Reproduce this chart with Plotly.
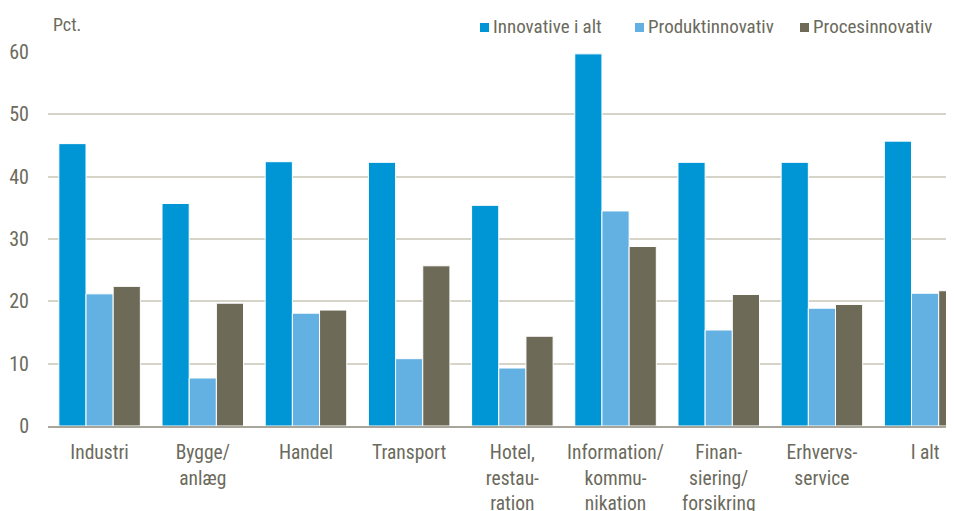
import plotly.graph_objects as go

# Data
categories = [
    "Industri", "Bygge/<br>anlæg", "Handel", "Transport",
    "Hotel,<br>restau-<br>ration", "Information/<br>kommu-<br>nikation",
    "Finan-<br>siering/<br>forsikring", "Erhvervs-<br>service", "I alt",
]
innovative_i_alt = [45.3, 35.7, 42.4, 42.3, 35.4, 59.7, 42.3, 42.3, 45.7]
produktinnovativ = [21.2, 7.7, 18.1, 10.8, 9.3, 34.5, 15.4, 18.9, 21.3]
procesinnovativ = [22.4, 19.7, 18.6, 25.7, 14.4, 28.8, 21.1, 19.5, 21.7]

y_ticks = [0, 10, 20, 30, 40, 50, 60]

TEXT_COLOR = "#6b6a5c"
FONT = "Liberation Sans Narrow, Arial Narrow, Roboto Condensed, sans-serif"

series = [
    ("Innovative i alt", innovative_i_alt, "#0096d6"),
    ("Produktinnovativ", produktinnovativ, "#63b0e2"),
    ("Procesinnovativ", procesinnovativ, "#6e6a58"),
]

# the page body adds an 8px margin, so the figure is sized to fill the rest
OFF = 8
W, H = 954 - OFF, 511 - OFF
ML, MT, MB = 48 - OFF, 52 - OFF, 85
plot_w = W - ML
plot_h = H - MT - MB

# legend drawn by hand (square + label) so spacing matches the original
legend_x = [480, 635, 800]   # left edge of each legend square, page pixels


def px_x(px):
    return (px - OFF - ML) / plot_w


def px_y(py):
    return 1 + (MT - (py - OFF)) / plot_h


fig = go.Figure()
for name, values, color in series:
    fig.add_trace(go.Bar(
        x=categories,
        y=values,
        name=name,
        marker=dict(color=color, line=dict(color="white", width=1)),
    ))

shapes = []
annotations = [dict(
    text="Pct.", xref="paper", yref="paper",
    x=px_x(51), y=px_y(25),
    xanchor="left", yanchor="middle",
    showarrow=False, font=dict(size=18, color=TEXT_COLOR),
)]
for (name, _, color), px in zip(series, legend_x):
    shapes.append(dict(type="rect", xref="paper", yref="paper",
                       x0=px_x(px), x1=px_x(px + 9),
                       y0=px_y(32), y1=px_y(23),
                       fillcolor=color, line=dict(width=0)))
    annotations.append(dict(
        text=name, xref="paper", yref="paper",
        x=px_x(px + 11), y=px_y(27),
        xanchor="left", yanchor="middle", showarrow=False,
        font=dict(size=19, color=TEXT_COLOR),
    ))

fig.update_layout(
    width=W,
    height=H,
    barmode="group",
    bargap=0.21,
    bargroupgap=0,
    plot_bgcolor="white",
    paper_bgcolor="white",
    margin=dict(l=ML, r=0, t=MT, b=MB, autoexpand=False),
    font=dict(family=FONT, size=19, color=TEXT_COLOR),
    showlegend=False,
    shapes=shapes,
    annotations=annotations,
)

fig.update_xaxes(
    range=[-0.5, 8.28],
    showgrid=False,
    showline=True,
    linecolor="#a8a69a",
    linewidth=1.5,
    ticks="",
    ticklabelstandoff=8,
    tickfont=dict(size=19.5, color=TEXT_COLOR),
    fixedrange=True,
)

fig.update_yaxes(
    range=[0, 60],
    tickvals=y_ticks,
    showgrid=True,
    gridcolor="#d6d4c8",
    gridwidth=1.5,
    zeroline=False,
    showline=False,
    ticks="",
    ticklabelstandoff=18,
    tickfont=dict(size=20, color=TEXT_COLOR),
    fixedrange=True,
)

fig.write_html("out.html")
